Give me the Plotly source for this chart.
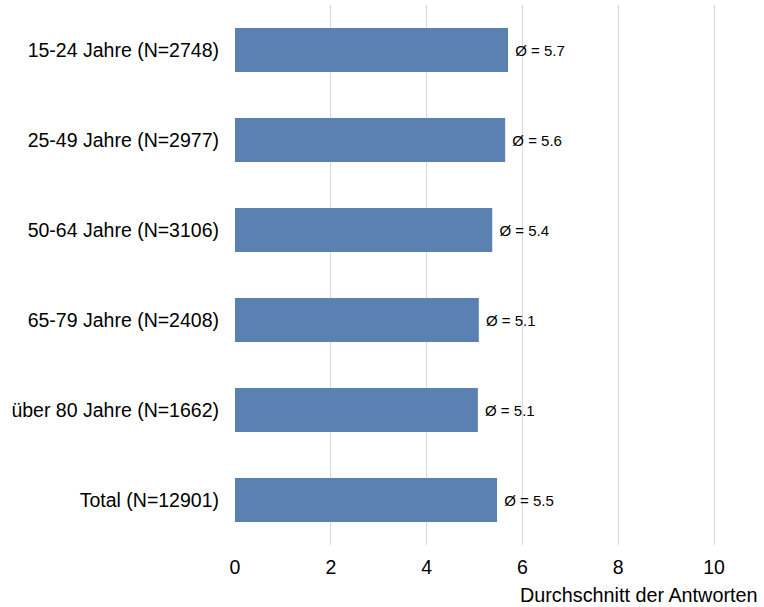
import plotly.graph_objects as go

# Daten
gruppen = ["15-24 Jahre (N=2748)", "25-49 Jahre (N=2977)", "50-64 Jahre (N=3106)",
           "65-79 Jahre (N=2408)", "über 80 Jahre (N=1662)", "Total (N=12901)"]
durchschnitt = [5.70, 5.64, 5.37, 5.09, 5.07, 5.47]
x_ticks = [0, 2, 4, 6, 8, 10]

schrift = "Liberation Sans, Arial, sans-serif"

fig = go.Figure(go.Bar(
    x=durchschnitt,
    y=gruppen,
    orientation="h",
    marker=dict(color="#5b80b2", line=dict(width=0)),
    texttemplate="\u00a0Ø = %{x:.1f}",
    textposition="outside",
    textfont=dict(family=schrift, size=15, color="black"),
    cliponaxis=False,
))

fig.update_layout(
    width=764, height=607,
    margin=dict(l=235, r=4, t=5, b=62),
    plot_bgcolor="white", paper_bgcolor="white",
    bargap=0.51,
    showlegend=False,
    font=dict(family=schrift, color="black"),
)

fig.update_xaxes(
    range=[0, 10.96],
    tickvals=x_ticks,
    showgrid=True, gridcolor="#d9d9d9", gridwidth=1,
    zeroline=False, showline=False,
    tickfont=dict(size=19.5),
    ticks="", ticklabelstandoff=8,
)
fig.update_yaxes(
    autorange="reversed",
    showgrid=False, zeroline=False, showline=False,
    tickfont=dict(size=19.5),
    ticks="", ticklabelstandoff=15,
)

# Achsentitel unten rechts
fig.add_annotation(
    text="Durchschnitt der Antworten",
    xref="paper", yref="paper", x=1, y=0, yshift=-37,
    xanchor="right", yanchor="top", showarrow=False,
    font=dict(family=schrift, size=19.8, color="black"),
)

# Rand des Seitenkörpers entfernen, damit die Grafik bei (0,0) beginnt
fig.write_html("out.html", config={"displayModeBar": False},
               post_script="document.body.style.margin='0';")
